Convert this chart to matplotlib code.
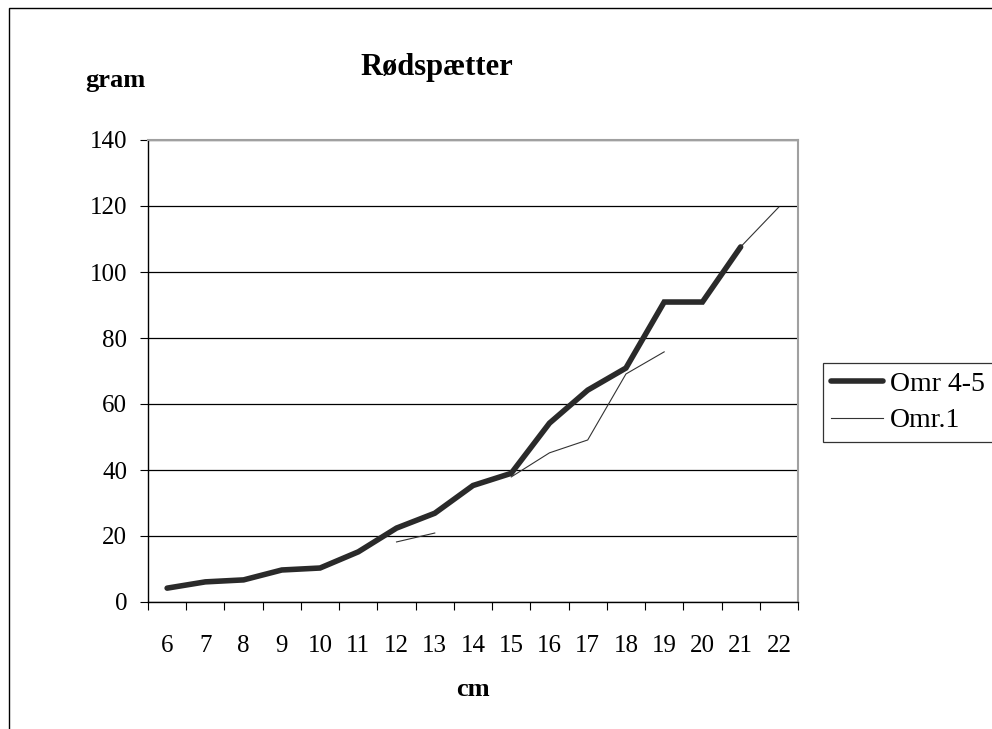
import numpy as np
import matplotlib
matplotlib.use("Agg")
import matplotlib.pyplot as plt
from matplotlib.patches import Rectangle
from matplotlib.ticker import FixedLocator

categories = ["6", "7", "8", "9", "10", "11", "12", "13", "14", "15", "16", "17", "18", "19", "20", "21", "22"]
omr45 = [4.2, 6.1, 6.7, 9.7, 10.3, 15.2, 22.4, 26.9, 35.3, 39.0, 54.2, 64.2, 70.9, 90.9, 90.9, 107.6, np.nan]
omr1 = [np.nan, np.nan, np.nan, np.nan, np.nan, np.nan, 18.2, 20.9, np.nan, 37.9, 45.2, 49.1, 69.1, 75.8, np.nan, 107.6, 119.7]
yticks = [0, 20, 40, 60, 80, 100, 120, 140]

plt.rcParams['font.family'] = ['Liberation Serif', 'DejaVu Serif']

W, H = 992, 729
fig = plt.figure(figsize=(W / 100, H / 100), dpi=100)
ax = fig.add_axes([148 / W, 1 - 602 / H, (798 - 148) / W, (602 - 140) / H])

x = np.arange(len(categories))
ax.plot(x, omr45, color="#2a2a2a", lw=4.0, solid_capstyle="round", solid_joinstyle="miter", label="Omr 4-5", zorder=3)
ax.plot(x, omr1, color="#333333", lw=0.8, label="Omr.1", zorder=4)

ax.set_xlim(-0.5, len(categories) - 0.5)
ax.set_ylim(0, 140)
ax.set_yticks(yticks)
ax.set_yticklabels([str(v) for v in yticks], fontsize=18)
ax.set_xticks(x)
ax.set_xticklabels(categories, fontsize=18)
ax.xaxis.set_minor_locator(FixedLocator(np.arange(-0.5, len(categories), 1.0)))
ax.tick_params(axis="x", which="major", length=0, pad=24)
ax.tick_params(axis="x", which="minor", length=6, width=0.8, direction="out", color="black")
ax.tick_params(axis="y", length=6, width=0.8, direction="out", pad=9, color="black")

ax.grid(axis="y", color="black", lw=0.9)
ax.set_axisbelow(True)
for s in ["top", "right"]:
    ax.spines[s].set_color("#a0a0a0")
    ax.spines[s].set_linewidth(1.5)
for s in ["left", "bottom"]:
    ax.spines[s].set_color("black")
    ax.spines[s].set_linewidth(1.0)

fig.text(437 / W, 1 - 68 / H, "Rødspætter", fontsize=22, fontweight="bold", ha="center", va="center")
fig.text(115 / W, 1 - 80 / H, "gram", fontsize=19, fontweight="bold", ha="center", va="center")
fig.text(473 / W, 1 - 690 / H, "cm", fontsize=19, fontweight="bold", ha="center", va="center")

leg = fig.legend(loc="upper left", bbox_to_anchor=(823 / W, 1 - 363 / H), fontsize=20,
                 frameon=True, fancybox=False, edgecolor="black", handlelength=1.85,
                 borderpad=0.3, labelspacing=0.4, handletextpad=0.25, borderaxespad=0)
leg.get_frame().set_linewidth(0.9)

fig.patches.append(Rectangle((9 / W, -0.1), 1.2, 1 - 8 / H + 0.1, transform=fig.transFigure,
                             fill=False, edgecolor="black", lw=1.0))

fig.savefig("out.png", dpi=100)
